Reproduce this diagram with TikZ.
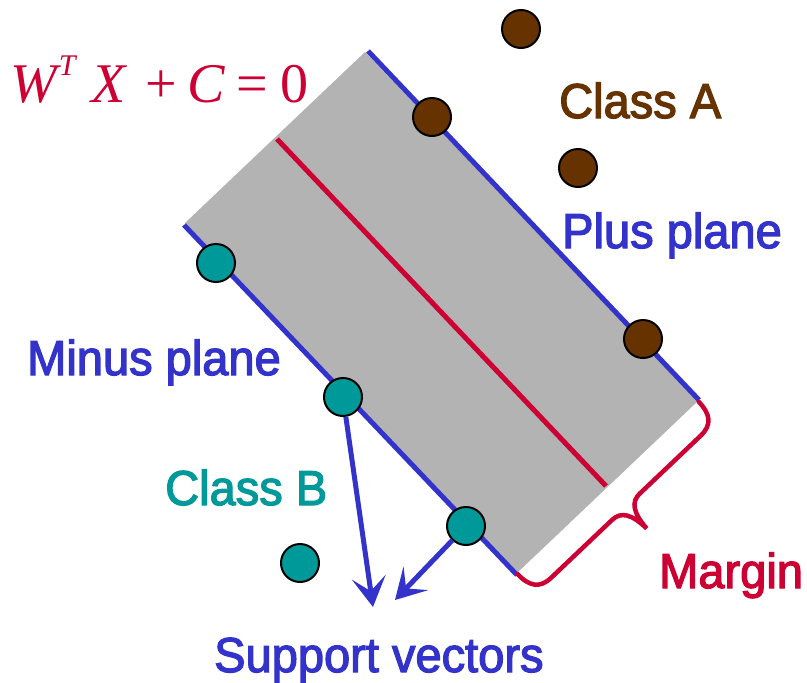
\documentclass[tikz,border=0pt]{standalone}
\usepackage{fontspec}
\usetikzlibrary{arrows.meta}
\newfontfamily\labf{Liberation Sans}[FakeStretch=0.96, FakeBold=2.5]
\newfontfamily\eqf{Liberation Serif}
\definecolor{svred}{RGB}{204,0,51}
\definecolor{svblue}{RGB}{51,51,204}
\definecolor{svbrown}{RGB}{102,51,0}
\definecolor{svteal}{RGB}{0,153,153}
\definecolor{svgray}{RGB}{179,179,179}
\tikzset{
  lab/.style={anchor=base west, inner sep=0pt, font=\labf\fontsize{49}{52}\selectfont},
  pta/.style={circle, draw=black, line width=2pt, fill=svbrown, minimum size=38pt, inner sep=0pt},
  ptb/.style={circle, draw=black, line width=2pt, fill=svteal, minimum size=38pt, inner sep=0pt},
  plane/.style={svblue, line width=5pt},
  svarrow/.style={svblue, line width=5pt, -{Stealth[length=30pt,width=34pt,inset=14pt]}},
}
\begin{document}
\begin{tikzpicture}[x=1pt,y=-1pt]
\useasboundingbox (0,0) rectangle (807,683);
% band corners
\coordinate (T) at (365,52);
\coordinate (Rr) at (698,401);
\coordinate (Bt) at (517,573);
\coordinate (Lf) at (185,223);
\fill[svgray] (T) -- (Rr) -- (Bt) -- (Lf) -- cycle;
% hyperplane
\coordinate (H1) at (277,139);
\coordinate (H2) at (606,486);
\draw[svred, line width=5pt] (H1) -- (H2);
% plus and minus planes
\coordinate (P1) at (368,51);
\coordinate (P2) at (699,400);
\coordinate (M1) at (184,225);
\coordinate (M2) at (517,575);
\draw[plane] (P1) -- (P2);
\draw[plane] (M1) -- (M2);
% margin brace
\begin{scope}[shift={(Rr)}, x={(-0.725pt,-0.689pt)}, y={(0.689pt,-0.725pt)}]
\draw[svred, line width=4.5pt, line cap=round]
  (0,1) .. controls (0,18) and (6,27) .. (22,27) -- (106,27)
  .. controls (118,27) and (124,36) .. (125,57)
  .. controls (126,36) and (132,27) .. (144,27) -- (228,27)
  .. controls (244,27) and (250,18) .. (250,1);
\end{scope}
% class A points
\node[pta] (a1) at (521,29) {};
\node[pta] (a2) at (432,117) {};
\node[pta] (a3) at (578,168) {};
\node[pta] (a4) at (643,339) {};
% class B points
\node[ptb] (b1) at (216,263) {};
\node[ptb] (b2) at (343,397) {};
\node[ptb] (b3) at (466,526) {};
\node[ptb] (b4) at (300,563) {};
% support vector arrows
\coordinate (s1) at (373,607);
\coordinate (s2) at (395,600);
\draw[svarrow] (b2) -- (s1);
\draw[svarrow] (b3) -- (s2);
% labels
\node[lab, text=svbrown] (classA) at (559,118) {Class A};
\node[lab, text=svblue] (plus) at (562,248) {Plus plane};
\node[lab, text=svblue] (minus) at (27,375) {Minus plane};
\node[lab, text=svteal] (classB) at (165,505) {Class B};
\node[lab, text=svblue] (support) at (214,672) {Support vectors};
\node[lab, text=svred] (margin) at (659,588) {Margin};
\node[anchor=base west, inner sep=0pt, text=svred, font=\eqf\fontsize{56}{60}\selectfont] (eq) at (10,102)
  {\itshape W\hspace{2pt}\raisebox{27pt}{\fontsize{30}{32}\selectfont T}\hspace{16pt}X\upshape\hspace{20pt}+\hspace{10pt}\itshape C\upshape\hspace{12pt}=\hspace{12pt}0};
\end{tikzpicture}
\end{document}
